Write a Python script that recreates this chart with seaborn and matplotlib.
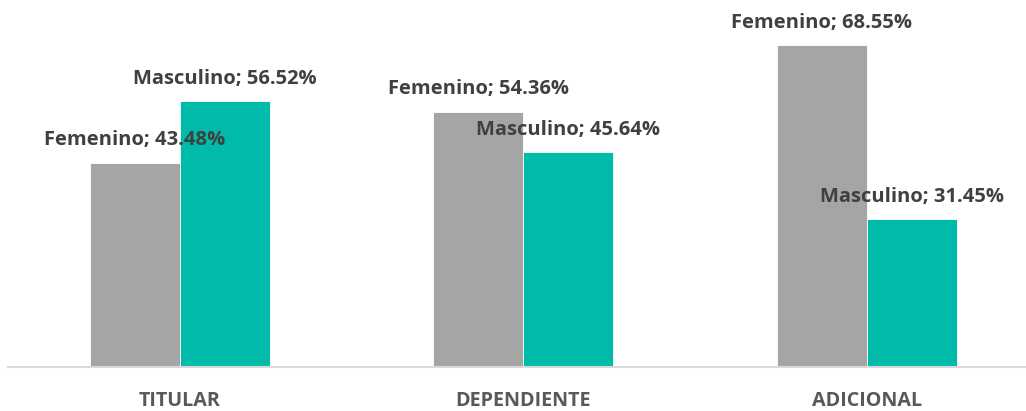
import matplotlib
matplotlib.use("Agg")
import matplotlib.pyplot as plt
import seaborn as sns
import pandas as pd

categories = ["TITULAR", "DEPENDIENTE", "ADICIONAL"]
series = ["Femenino", "Masculino"]
femenino = [43.48, 54.36, 68.55]
masculino = [56.52, 45.64, 31.45]

colors = {"Femenino": "#A5A5A5", "Masculino": "#00BBA9"}

df = pd.DataFrame({
    "Tipo": categories * 2,
    "Sexo": ["Femenino"] * 3 + ["Masculino"] * 3,
    "Valor": femenino + masculino,
})

sns.set_theme(style="white")
plt.rcParams["font.family"] = ["Open Sans", "DejaVu Sans"]

fig = plt.figure(figsize=(10.26, 4.11), dpi=100)
ax = fig.add_axes([8 / 1026, 1 - 367 / 411, 1 - 8 / 1026, 367 / 411 - 0.0])

sns.barplot(data=df, x="Tipo", y="Valor", hue="Sexo", order=categories,
            hue_order=series, palette=colors, width=0.524, ax=ax,
            saturation=1, edgecolor="white", linewidth=0.6, legend=False,
            errorbar=None)

ax.set_xlim(-0.5007, 2.463)
ax.set_ylim(0, 367 / 4.70)

for cont, name in zip(ax.containers, series):
    for bar, v in zip(cont, df[df["Sexo"] == name]["Valor"]):
        ax.annotate(f"{name}; {v:.2f}%",
                    (bar.get_x() + bar.get_width() / 2, bar.get_height()),
                    xytext=(0, 16), textcoords="offset points",
                    ha="center", va="center", fontsize=14.5,
                    fontweight="bold", color="#404040")

for s in ["top", "right", "left"]:
    ax.spines[s].set_visible(False)
ax.spines["bottom"].set_color("#D9D9D9")
ax.spines["bottom"].set_linewidth(1.5)
ax.set_yticks([])
ax.set_xlabel("")
ax.set_ylabel("")
ax.tick_params(axis="x", length=0, pad=17.5, labelsize=14.2, labelcolor="#595959")
for t in ax.get_xticklabels():
    t.set_fontweight("bold")

fig.savefig("out.png", dpi=100)
